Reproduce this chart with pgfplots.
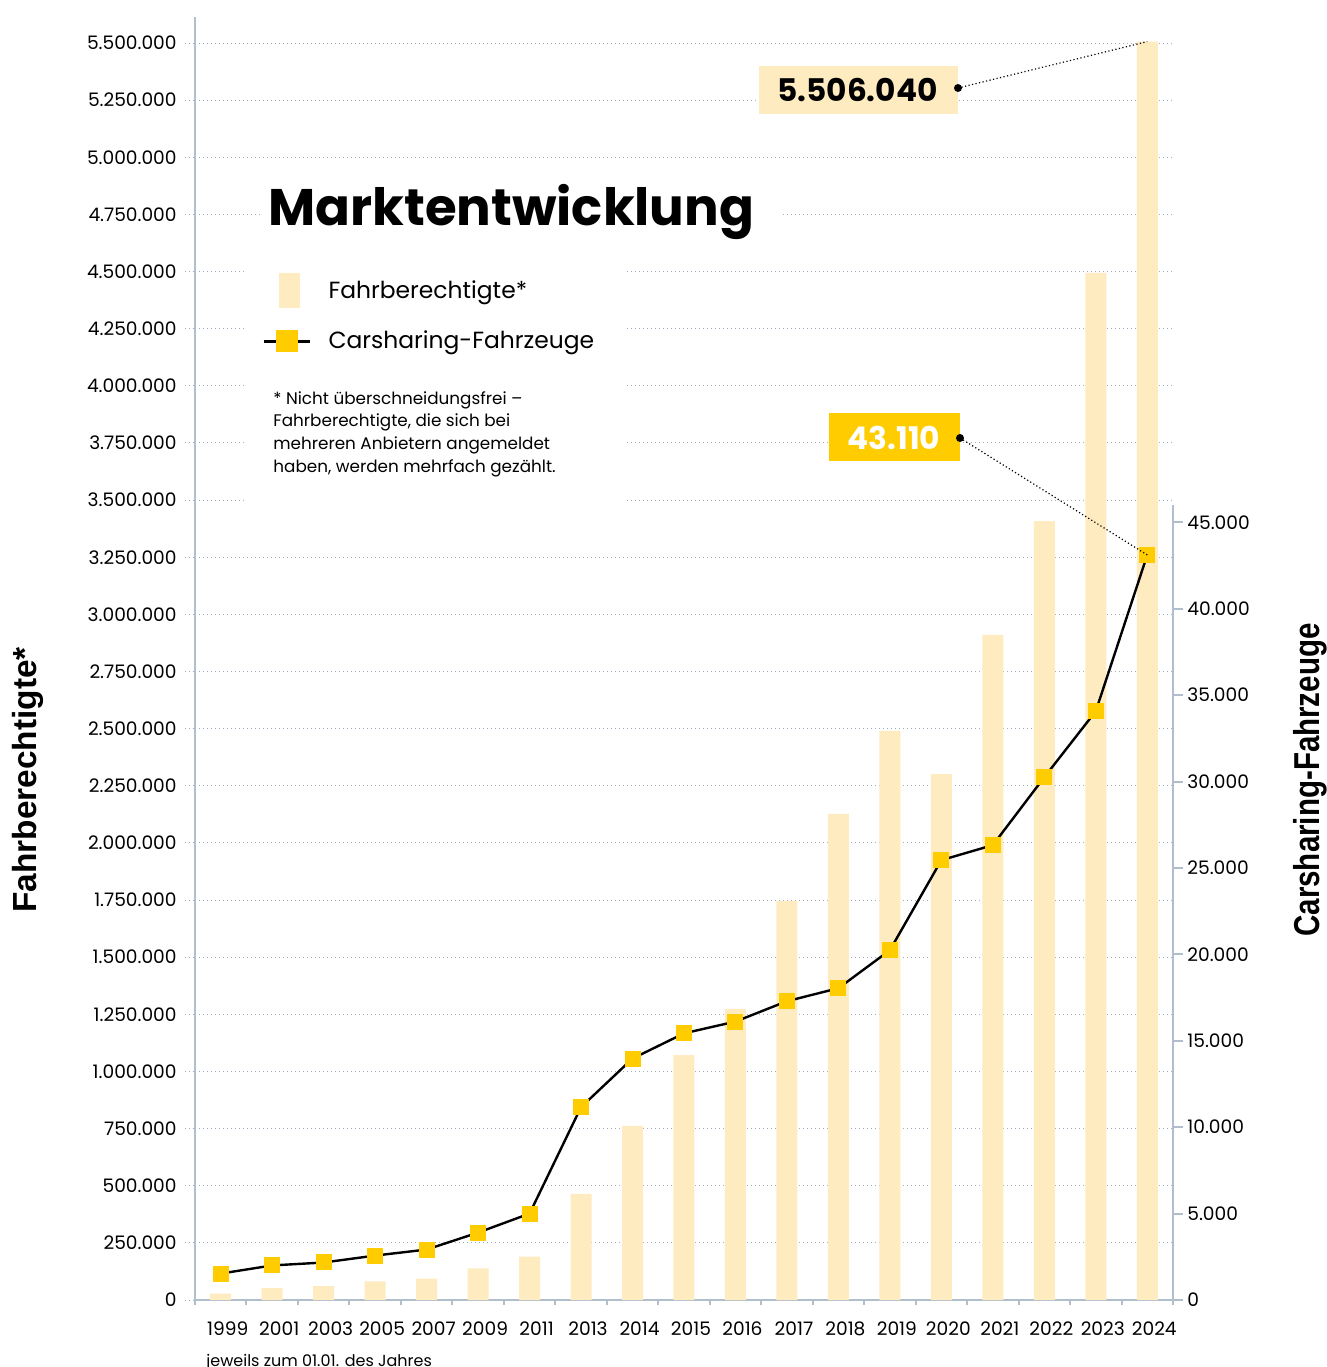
\documentclass[border=0pt]{standalone}
\usepackage{graphicx}
\usepackage{pgfplots}
\pgfplotsset{compat=1.18}
\usepackage{fontspec}
\setmainfont{Poppins}
\newfontfamily\labfont{Liberation Sans}
\definecolor{barc}{HTML}{FEEBBF}
\definecolor{markc}{HTML}{FFCC00}
\definecolor{gridc}{HTML}{9DAEBF}
\definecolor{axc}{HTML}{B1BFCC}
\tikzset{px/.style={shift={(-97.5pt,650pt)}, x=0.5pt, y=-0.5pt}}

\begin{document}
\begin{tikzpicture}[font=\fontsize{9.3}{11}\selectfont]
\path[use as bounding box] (-97.5pt,650pt) rectangle (566pt,-33.5pt);

% Fahrberechtigte (left scale)
\begin{axis}[
  at={(0,0)}, anchor=south west,
  scale only axis, width=489pt, height=641.5pt,
  xmin=-0.5, xmax=18.5, ymin=0, ymax=5613800,
  scaled y ticks=false,
  axis x line*=bottom, axis y line*=left,
  axis line style={draw=axc, line width=1pt, -},
  xtick={0,...,18},
  xticklabels={1999,2001,2003,2005,2007,2009,2011,2013,2014,2015,2016,2017,2018,2019,2020,2021,2022,2023,2024},
  major x tick style={draw=none},
  minor xtick={-0.5,0.5,...,18.5},
  minor x tick style={draw=axc, line width=1pt},
  minor tick length=2.5pt,
  xticklabel style={anchor=north, inner sep=0pt, xshift=3.5pt, yshift=-5.5pt},
  ytick={0,250000,500000,750000,1000000,1250000,1500000,1750000,2000000,2250000,2500000,2750000,3000000,3250000,3500000,3750000,4000000,4250000,4500000,4750000,5000000,5250000,5500000},
  yticklabels={0,250.000,500.000,750.000,1.000.000,1.250.000,1.500.000,1.750.000,2.000.000,2.250.000,2.500.000,2.750.000,3.000.000,3.250.000,3.500.000,3.750.000,4.000.000,4.250.000,4.500.000,4.750.000,5.000.000,5.250.000,5.500.000},
  ytick style={draw=gridc, line width=0.5pt, dash pattern=on 0.5pt off 1.5pt},
  major tick length=5pt, tick align=outside,
  ymajorgrids,
  grid style={draw=gridc, line width=0.5pt, dash pattern=on 0.5pt off 1.5pt},
  yticklabel style={anchor=east, inner sep=0pt, xshift=-4pt},
  tick label style={font=\fontsize{9.3}{11}\selectfont},
]
\addplot[ybar, bar width=10.5pt, fill=barc, draw=none] coordinates {
  (0,28000) (1,52000) (2,61000) (3,81000) (4,94000) (5,138000) (6,190000)
  (7,464000) (8,762000) (9,1072000) (10,1274000) (11,1746000) (12,2127000)
  (13,2490000) (14,2301000) (15,2910000) (16,3408000) (17,4494000) (18,5506040)
};
\coordinate (top24) at (axis cs:18,5506040);
\end{axis}

% white panels behind title and legend
\begin{scope}[px]
\fill[white] (262,170) rectangle (780,243);
\fill[white] (245,243) rectangle (625,508);
\end{scope}

% Carsharing-Fahrzeuge (right scale)
\begin{axis}[
  at={(0,0)}, anchor=south west,
  scale only axis, width=489pt, height=397.5pt,
  xmin=-0.5, xmax=18.5, ymin=0, ymax=46000,
  scaled y ticks=false,
  axis x line=none, axis y line*=right,
  axis line style={draw=axc, line width=1pt, -},
  ytick={0,5000,10000,15000,20000,25000,30000,35000,40000,45000},
  yticklabels={0,5.000,10.000,15.000,20.000,25.000,30.000,35.000,40.000,45.000},
  ytick style={draw=axc, line width=1pt},
  major tick length=5pt, tick align=outside,
  yticklabel style={anchor=west, inner sep=0pt, xshift=2pt},
  tick label style={font=\fontsize{9.3}{11}\selectfont},
  clip=false,
  legend style={at={(axis description cs:0.0685,1.2918)}, anchor=north west,
    draw=none, fill=none, inner sep=0pt, row sep=7.75pt, column sep=0pt,
    nodes={inner sep=0pt}, font=\fontsize{11.7}{14}\selectfont},
  legend cell align=left,
]
\addlegendimage{legend image code/.code={
  \path[draw=none, fill=none] (0pt,-8.75pt) rectangle (32.5pt,8.75pt);
  \fill[barc, draw=none] (7.5pt,-8.75pt) rectangle (18pt,8.75pt);}}
\addlegendentry{Fahrberechtigte*}
\addplot[black, line width=1.2pt, mark=square*, mark size=3.75pt,
  mark options={fill=markc, draw=markc, line width=0pt},
  legend image code/.code={
    \path[draw=none, fill=none] (0pt,-8.75pt) rectangle (32.5pt,8.75pt);
    \draw[black, line width=1.2pt] (0pt,0pt) -- (23pt,0pt);
    \fill[markc, draw=none] (6pt,-5.5pt) rectangle (17pt,5.5pt);}]
coordinates {
  (0,1530) (1,2000) (2,2170) (3,2570) (4,2920) (5,3900) (6,5000)
  (7,11160) (8,13970) (9,15430) (10,16110) (11,17290) (12,18040)
  (13,20240) (14,25450) (15,26320) (16,30250) (17,34070) (18,43110)
};
\addlegendentry{Carsharing-Fahrzeuge}
\coordinate (m24) at (axis cs:18,43110);
\end{axis}

\begin{scope}[px]
\node[anchor=base west, inner sep=0pt, font=\fontsize{25.7}{28}\selectfont\bfseries] at (268,226) {Marktentwicklung};
\node[anchor=north west, inner sep=0pt, align=left, font=\fontsize{8.4}{11.35}\selectfont] at (273,391)
  {* Nicht überschneidungsfrei –\\Fahrberechtigte, die sich bei\\mehreren Anbietern angemeldet\\haben, werden mehrfach gezählt.};
% callouts
\fill[barc] (759,66) rectangle (958,114);
\node[inner sep=0pt, font=\fontsize{15.6}{18}\selectfont\bfseries] at (857.5,90) {5.506.040};
\fill[markc] (829,413) rectangle (960,461);
\node[inner sep=0pt, text=white, font=\fontsize{15.6}{18}\selectfont\bfseries] at (894,438) {43.110};
\draw[black, line width=0.6pt, dash pattern=on 0.6pt off 1.2pt] (958,88) -- (top24);
\draw[black, line width=0.6pt, dash pattern=on 0.6pt off 1.2pt] (960,438) -- (m24);
\fill (958,88) circle (2pt);
\fill (960,438) circle (2pt);
% axis titles
\node[rotate=90, anchor=base, inner sep=0pt, font=\labfont\bfseries\fontsize{16.7}{18}\selectfont] at (37,780) {Fahrberechtigte*};
\node[rotate=90, anchor=base, inner sep=0pt, font=\labfont\bfseries\fontsize{18}{20}\selectfont] at (1319,780) {\scalebox{0.82}[1]{Carsharing-Fahrzeuge}};
\node[anchor=base west, inner sep=0pt, font=\fontsize{8}{10}\selectfont] at (206,1366) {jeweils zum 01.01. des Jahres};
\end{scope}
\end{tikzpicture}
\end{document}
